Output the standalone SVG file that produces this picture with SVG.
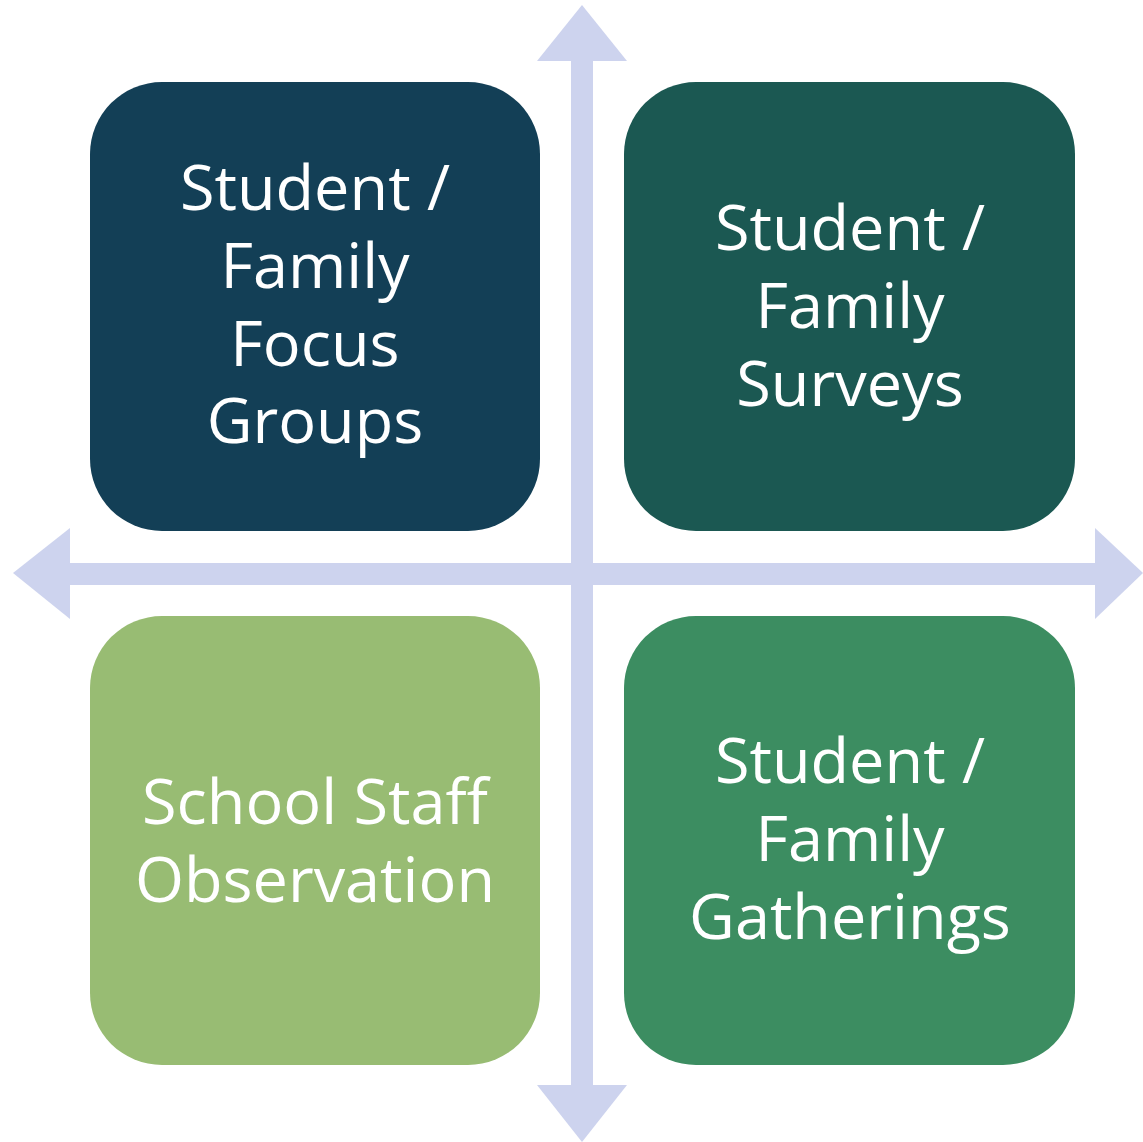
<svg xmlns="http://www.w3.org/2000/svg" width="1143" height="1142" viewBox="0 0 1143 1142">
<style>
.lbl{font-family:"Open Sans","Noto Sans",sans-serif;font-size:63px;fill:#ffffff;text-anchor:middle}
.arr{fill:#CDD3EE}
</style>
<rect width="1143" height="1142" fill="#ffffff"/>
<g id="connectors">
<rect class="arr" x="571" y="60" width="22" height="1026"/>
<rect class="arr" x="69" y="563" width="1027" height="22"/>
<polygon class="arr" points="582,5 627,61 537,61"/>
<polygon class="arr" points="582,1142 627,1085 537,1085"/>
<polygon class="arr" points="13,573 70,528 70,619"/>
<polygon class="arr" points="1143,573 1095,528 1095,619"/>
</g>
<g id="node-tl">
<rect x="90" y="82" width="450" height="449" rx="72" fill="#133F56"/>
<text class="lbl"><tspan x="315" y="210">Student /</tspan><tspan x="315" y="288">Family</tspan><tspan x="315" y="366">Focus</tspan><tspan x="315" y="443">Groups</tspan></text>
</g>
<g id="node-tr">
<rect x="624" y="82" width="451" height="449" rx="72" fill="#1B5852"/>
<text class="lbl"><tspan x="850" y="250">Student /</tspan><tspan x="850" y="328">Family</tspan><tspan x="850" y="406">Surveys</tspan></text>
</g>
<g id="node-bl">
<rect x="90" y="616" width="450" height="449" rx="72" fill="#98BC73"/>
<text class="lbl"><tspan x="315" y="824">School Staff</tspan><tspan x="315" y="902">Observation</tspan></text>
</g>
<g id="node-br">
<rect x="624" y="616" width="451" height="449" rx="72" fill="#3C8D61"/>
<text class="lbl"><tspan x="850" y="783">Student /</tspan><tspan x="850" y="861">Family</tspan><tspan x="850" y="939">Gatherings</tspan></text>
</g>
</svg>
